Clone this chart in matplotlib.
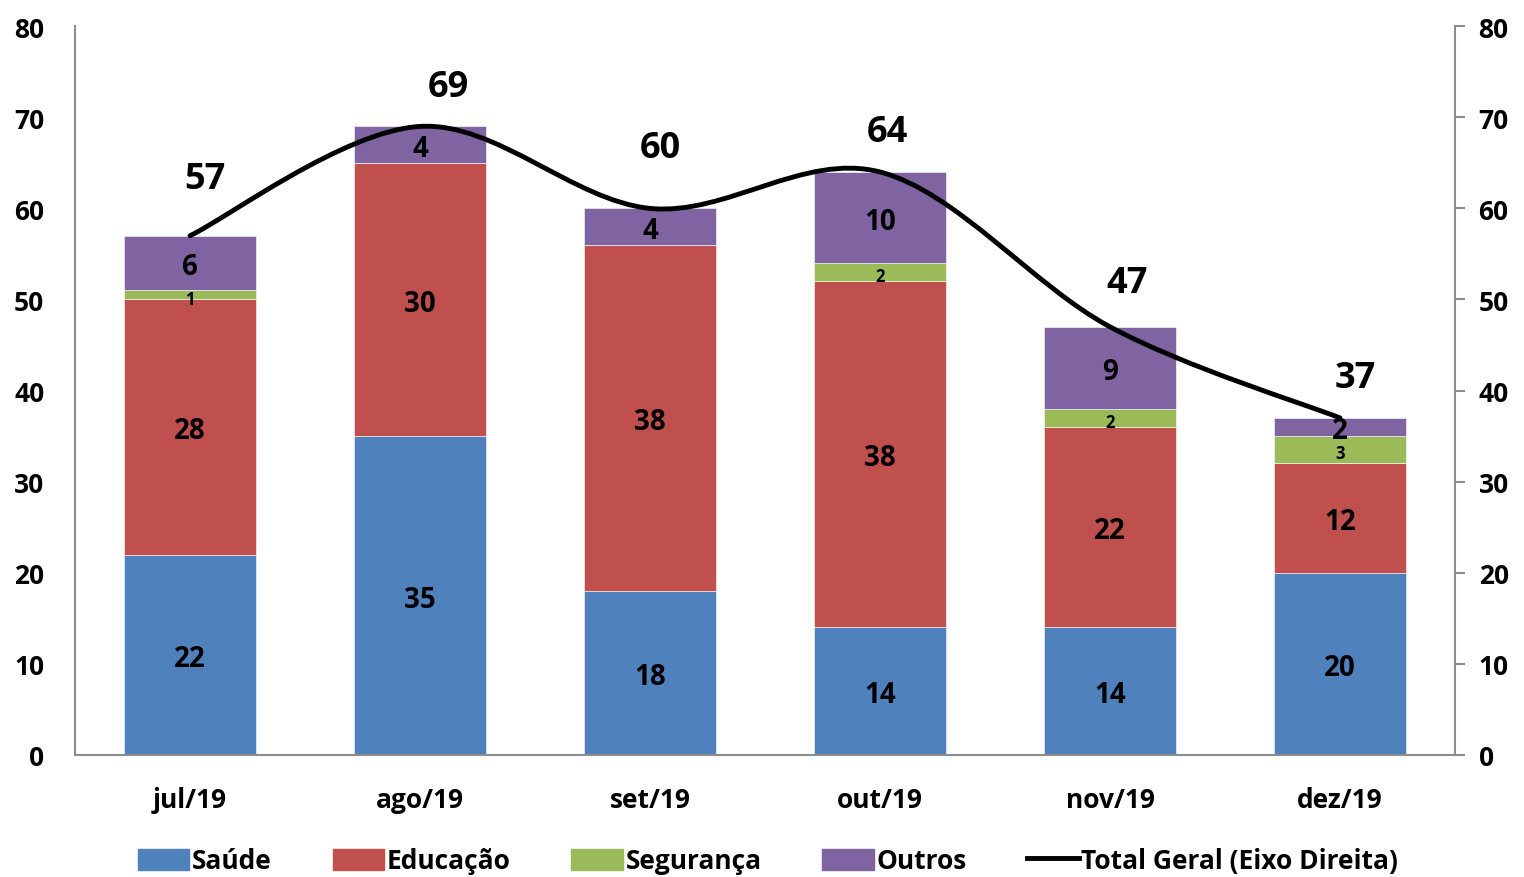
import matplotlib
matplotlib.use("Agg")
import matplotlib.pyplot as plt
from matplotlib.path import Path
from matplotlib.patches import PathPatch, Patch
from matplotlib.lines import Line2D
import numpy as np

plt.rcParams['font.family'] = ['Open Sans', 'DejaVu Sans']
plt.rcParams['font.weight'] = 'bold'

meses = ["jul/19", "ago/19", "set/19", "out/19", "nov/19", "dez/19"]
saude = [22, 35, 18, 14, 14, 20]
educacao = [28, 30, 38, 38, 22, 12]
seguranca = [1, 0, 0, 2, 2, 3]
outros = [6, 4, 4, 10, 9, 2]
total = [57, 69, 60, 64, 47, 37]

series = [("Saúde", saude, "#4F81BD", 20),
          ("Educação", educacao, "#C0504D", 20),
          ("Segurança", seguranca, "#9BBB59", 12),
          ("Outros", outros, "#8064A2", 20)]

# label offsets for the totals, in pixels
lbl_off = [(15, 57), (28, 39), (10, 60), (7, 40), (17, 44), (15, 40)]

fig = plt.figure(figsize=(15.24, 8.78), dpi=100)
ax = fig.add_axes([0.0492, 0.139, 0.9055, 0.830])
x = np.arange(len(meses))
base = np.zeros(len(meses))
for nome, vals, cor, fs in series:
    vals = np.array(vals, dtype=float)
    ax.bar(x, vals, 0.57, bottom=base, color=cor, edgecolor="white", linewidth=0.4)
    for xi, b, v in zip(x, base, vals):
        if v > 0:
            ax.text(xi, b + v / 2 - 0.4, f"{int(v)}", ha="center", va="center",
                    fontsize=fs if v > 1 else 12, fontweight="bold")
    base += vals

ax.set_xlim(-0.5, len(meses) - 0.5)
ax.set_ylim(0, 80)
ax.set_yticks(range(0, 81, 10))
ax.set_xticks(x)
ax.set_xticklabels(meses)
ax.tick_params(axis="y", length=0, pad=22, labelsize=19)
ax.tick_params(axis="x", length=0, pad=22, labelsize=19)
ax.spines["top"].set_visible(False)
ax.spines["right"].set_visible(False)
for s in ("left", "bottom"):
    ax.spines[s].set_color("#8c8c8c")
    ax.spines[s].set_linewidth(1.5)

ax2 = ax.twinx()
ax2.set_ylim(0, 80)
ax2.set_yticks(range(0, 81, 10))
ax2.tick_params(axis="y", direction="out", length=7, width=1.5, color="#8c8c8c",
                labelsize=19, pad=10)
for s in ("top", "left", "bottom"):
    ax2.spines[s].set_visible(False)
ax2.spines["right"].set_color("#8c8c8c")
ax2.spines["right"].set_linewidth(1.5)

# smooth line through totals (cubic Bezier, Catmull-Rom style)
pts = np.column_stack([x, total]).astype(float)
verts = [tuple(pts[0])]
codes = [Path.MOVETO]
n = len(pts)
for i in range(n - 1):
    p0 = pts[i - 1] if i > 0 else pts[i]
    p1, p2 = pts[i], pts[i + 1]
    p3 = pts[i + 2] if i + 2 < n else pts[i + 1]
    c1 = p1 + (p2 - p0) / 6
    c2 = p2 - (p3 - p1) / 6
    verts += [tuple(c1), tuple(c2), tuple(p2)]
    codes += [Path.CURVE4] * 3
ax2.add_patch(PathPatch(Path(verts, codes), fill=False, lw=3.5, color="black",
                        capstyle="round", zorder=5))
for xi, t, off in zip(x, total, lbl_off):
    ax2.annotate(f"{t}", (xi, t), xytext=off, textcoords="offset pixels",
                 ha="center", va="center", fontsize=26, fontweight="bold")

handles = [Patch(color=c) for _, _, c, _ in series]
handles.append(Line2D([0], [0], color="black", lw=3.5))
labels = [s[0] for s in series] + ["Total Geral (Eixo Direita)"]
fig.legend(handles, labels, loc="lower center", bbox_to_anchor=(0.504, -0.024), ncol=5,
           frameon=False, fontsize=19, handlelength=1.95, handleheight=0.85,
           handletextpad=0.1, columnspacing=2.3)

fig.savefig("out.png", dpi=100)
